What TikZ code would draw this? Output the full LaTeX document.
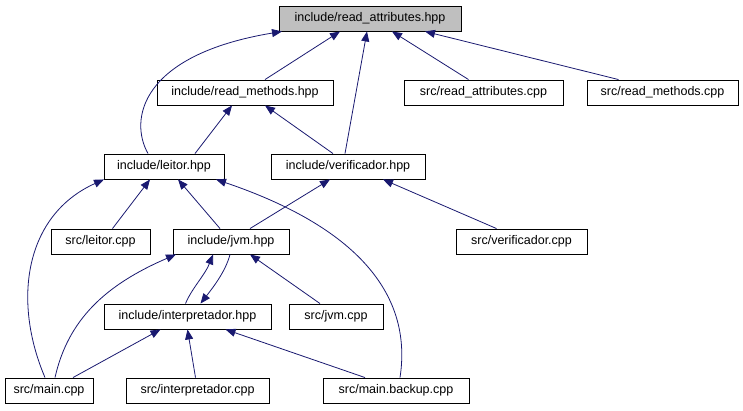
\documentclass[tikz,border=0pt]{standalone}
\usepackage{fontspec}
\setmainfont{Liberation Sans}
\usetikzlibrary{arrows.meta}
\definecolor{edgeblue}{HTML}{191970}
\definecolor{rootgray}{HTML}{BFBFBF}
\tikzset{
  file/.style={draw=black,line width=0.9pt,inner sep=0pt,minimum height=25pt,font=\fontsize{12.5}{14}\selectfont},
  dep/.style={draw=edgeblue,line width=0.8pt,-{Triangle[length=10pt,width=8pt]}}
}
\begin{document}
\begin{tikzpicture}[x=1pt,y=-1pt]
\useasboundingbox (0,0) rectangle (743,411);
\node[file,fill=rootgray,minimum width=182pt] (ra) at (370,18.5) {include/read\_attributes.hpp};
\node[file,minimum width=176pt] (rm) at (245,92.5) {include/read\_methods.hpp};
\node[file,minimum width=159pt] (rac) at (483.5,92.5) {src/read\_attributes.cpp};
\node[file,minimum width=151pt] (rmc) at (662.5,92.5) {src/read\_methods.cpp};
\node[file,minimum width=120pt] (le) at (164,166.5) {include/leitor.hpp};
\node[file,minimum width=154pt] (ve) at (348,166.5) {include/verificador.hpp};
\node[file,minimum width=99pt] (lec) at (100.5,241.5) {src/leitor.cpp};
\node[file,minimum width=116pt] (jv) at (231,241.5) {include/jvm.hpp};
\node[file,minimum width=131pt] (vec) at (521.5,241.5) {src/verificador.cpp};
\node[file,minimum width=167pt] (in) at (187.5,316.5) {include/interpretador.hpp};
\node[file,minimum width=94pt] (jc) at (336,316.5) {src/jvm.cpp};
\node[file,minimum width=88pt] (mc) at (49,390.5) {src/main.cpp};
\node[file,minimum width=143pt] (ic) at (197.5,390.5) {src/interpretador.cpp};
\node[file,minimum width=146pt] (mb) at (396,390.5) {src/main.backup.cpp};

% read_attributes.hpp
\draw[dep] ([xshift=20pt]rm.north) -- ([xshift=-30pt]ra.south);
\draw[dep] ([xshift=-15pt]rac.north) -- ([xshift=22pt]ra.south);
\draw[dep] ([xshift=-44pt]rmc.north) -- ([xshift=55pt]ra.south);
\draw[dep] ([xshift=-16pt]le.north) .. controls (129,120) and (140,55) .. ([xshift=-88pt]ra.south);
\draw[dep] ([xshift=-3pt]ve.north) -- ([xshift=-3pt]ra.south);
% read_methods.hpp
\draw[dep] ([xshift=31pt]le.north) -- ([xshift=-13pt]rm.south);
\draw[dep] ([xshift=-15pt]ve.north) -- ([xshift=20pt]rm.south);
% leitor.hpp
\draw[dep] ([xshift=12pt]lec.north) -- ([xshift=-14pt]le.south);
\draw[dep] ([xshift=-11pt]jv.north) -- ([xshift=14pt]le.south);
\draw[dep] ([xshift=-4pt]mc.north) .. controls (12,300) and (25,215) .. ([xshift=-60pt]le.south);
\draw[dep] ([xshift=4pt]mb.north) .. controls (412,300) and (365,230) .. ([xshift=52pt]le.south);
% verificador.hpp
\draw[dep] ([xshift=19pt]jv.north) -- ([xshift=-18pt]ve.south);
\draw[dep] ([xshift=-25pt]vec.north) -- ([xshift=35pt]ve.south);
% jvm.hpp
\draw[dep] ([xshift=6pt]mc.north) .. controls (68,320) and (105,285) .. ([xshift=-55pt]jv.south);
\draw[dep] ([xshift=-2pt]in.north) .. controls (192,288) and (205,275) .. ([xshift=-18pt]jv.south);
\draw[dep] ([xshift=-1pt]jv.south) .. controls (226,270) and (215,285) .. ([xshift=13pt]in.north);
\draw[dep] ([xshift=-16pt]jc.north) -- ([xshift=19pt]jv.south);
% interpretador.hpp
\draw[dep] ([xshift=24pt]mc.north) -- ([xshift=-27pt]in.south);
\draw[dep] ([xshift=-2pt]ic.north) -- ([xshift=0pt]in.south);
\draw[dep] ([xshift=-31pt]mb.north) -- ([xshift=38pt]in.south);
\end{tikzpicture}
\end{document}
